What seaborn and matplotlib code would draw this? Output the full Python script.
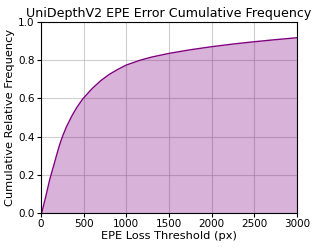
import numpy as np
import pandas as pd
import matplotlib
matplotlib.use('Agg')
import matplotlib.pyplot as plt
import seaborn as sns

# values
threshold = [0, 8, 50, 105, 150, 184, 210, 230, 260, 300, 360, 420, 490, 600, 700, 800, 900,
             1000, 1160, 1300, 1500, 1750, 2000, 2250, 2500, 2750, 3000]
cum_freq = [0.0, 0.0, 0.075, 0.18, 0.25, 0.305, 0.345, 0.373, 0.41, 0.453, 0.507, 0.553,
            0.598, 0.652, 0.693, 0.726, 0.752, 0.775, 0.80, 0.817, 0.836, 0.855, 0.871,
            0.885, 0.897, 0.908, 0.918]

df = pd.DataFrame({'threshold': threshold, 'cum_freq': cum_freq})

fig, ax = plt.subplots(figsize=(3.19, 2.48), dpi=100)
sns.lineplot(data=df, x='threshold', y='cum_freq', color='purple', lw=1, ax=ax)
ax.fill_between(df.threshold, df.cum_freq, color='purple', alpha=0.3, lw=0)
ax.set_xlim(0, 3000)
ax.set_ylim(0, 1.0)
ax.set_yticks(np.arange(0, 1.01, 0.2))
ax.yaxis.set_major_formatter(matplotlib.ticker.FormatStrFormatter('%.1f'))
ax.set_axisbelow(True)
ax.grid(True, color='#b0b0b0', lw=0.8, alpha=0.6)
ax.set_title('UniDepthV2 EPE Error Cumulative Frequency', fontsize=9.1, pad=4)
ax.set_xlabel('EPE Loss Threshold (px)', fontsize=8.2, labelpad=1)
ax.set_ylabel('Cumulative Relative Frequency', fontsize=8.2, labelpad=2)
ax.tick_params(labelsize=7.5, length=3, pad=1.5)
fig.subplots_adjust(left=0.1285, right=0.931, top=0.911, bottom=0.141)
plt.savefig('out.png', dpi=100)
